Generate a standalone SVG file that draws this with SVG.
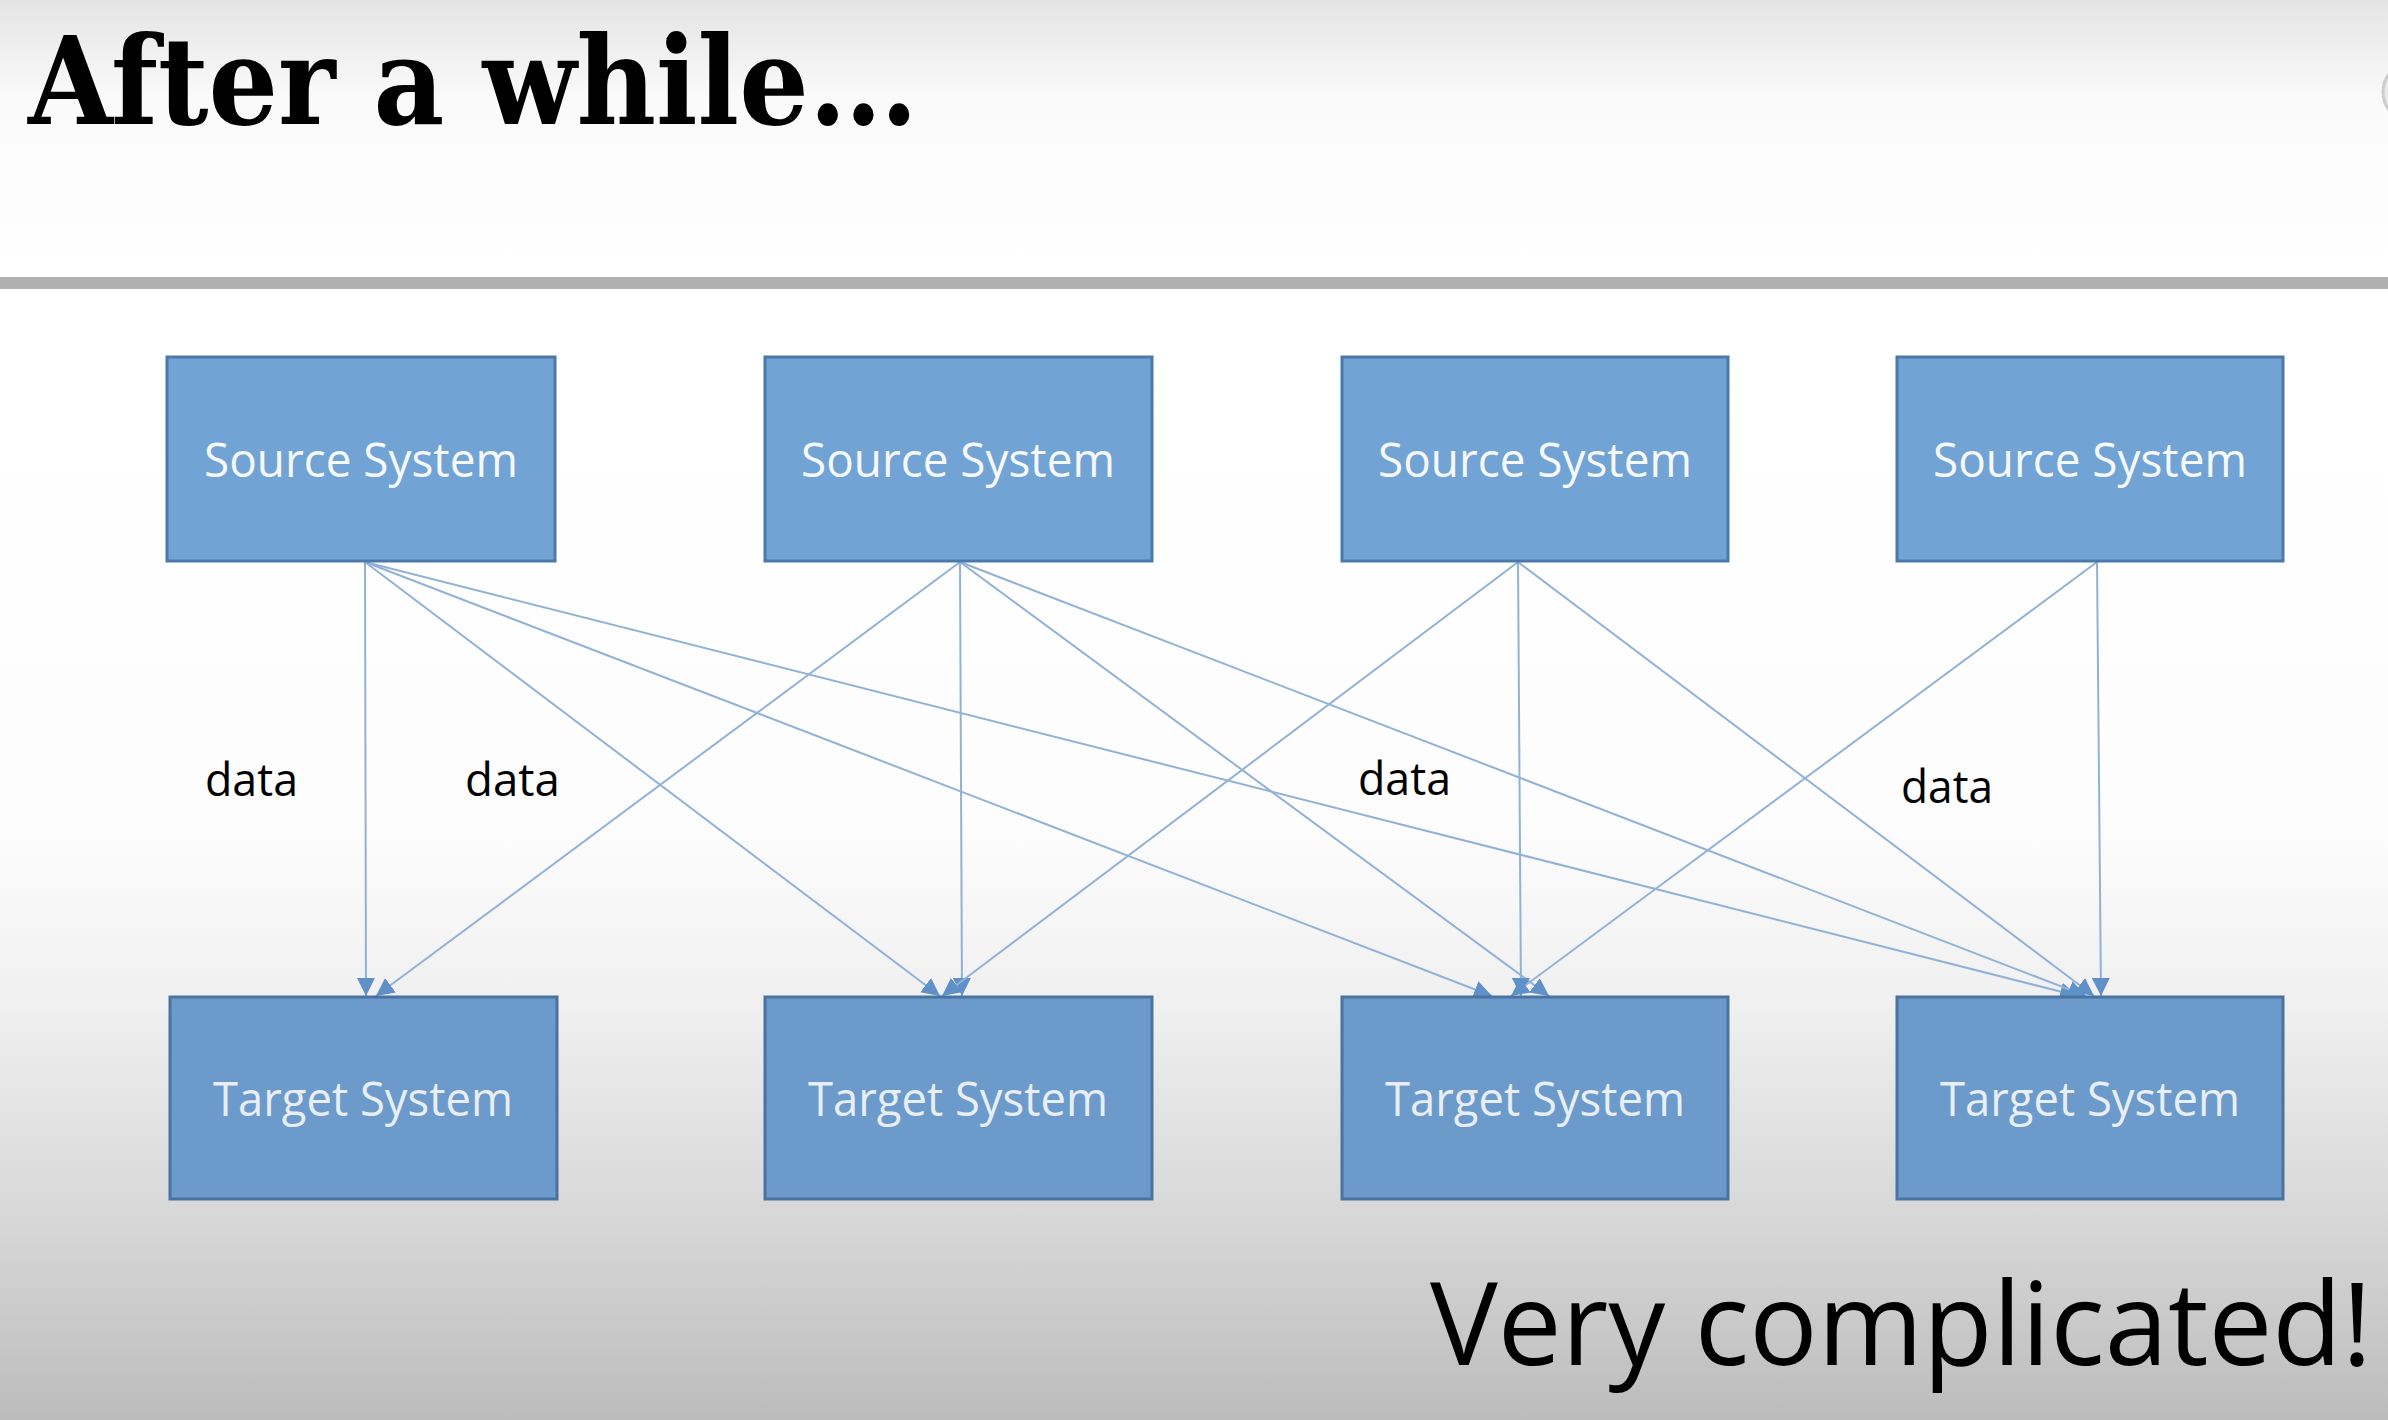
<svg xmlns="http://www.w3.org/2000/svg" width="2388" height="1420" viewBox="0 0 2388 1420">
  <defs>
    <linearGradient id="bgTop" x1="0" y1="0" x2="0" y2="1">
      <stop offset="0" stop-color="#e4e4e4"/>
      <stop offset="0.35" stop-color="#fafafa"/>
      <stop offset="1" stop-color="#ffffff"/>
    </linearGradient>
    <linearGradient id="bgBottom" x1="0" y1="289" x2="0" y2="1420" gradientUnits="userSpaceOnUse">
      <stop offset="0" stop-color="#ffffff"/>
      <stop offset="0.47" stop-color="#fdfdfd"/>
      <stop offset="0.63" stop-color="#f0f0f0"/>
      <stop offset="0.83" stop-color="#d6d6d6"/>
      <stop offset="1" stop-color="#bcbcbc"/>
    </linearGradient>
    <marker id="arrow" markerUnits="userSpaceOnUse" markerWidth="19" markerHeight="18" refX="18" refY="9" orient="auto">
      <path d="M0,0 L18,9 L0,18 z" fill="#5f91c8"/>
    </marker>
    <style>
      .src rect { fill: #72a3d5; stroke: #4d79aa; stroke-width: 3; }
      .tgt rect { fill: #6b9acb; stroke: #4a73a2; stroke-width: 3; }
      .src text, .tgt text { font-family: "Open Sans", "Noto Sans", sans-serif; font-size: 47px; text-anchor: middle; }
      .src text { fill: #f5f8fc; }
      .tgt text { fill: #e8eef5; }
      .conn line { stroke: #91b2d6; stroke-width: 2; fill: none; marker-end: url(#arrow); }
      .lbl { font-family: "Open Sans", "Noto Sans", sans-serif; font-size: 45px; fill: #000000; }
    </style>
  </defs>

  <!-- background -->
  <rect x="0" y="0" width="2388" height="277" fill="url(#bgTop)"/>
  <rect x="0" y="289" width="2388" height="1131" fill="url(#bgBottom)"/>
  <rect x="0" y="277" width="2388" height="12" fill="#b0b0b0"/>
  <circle cx="2413" cy="92" r="30" fill="#eaeaea" stroke="#cdcdcd" stroke-width="3"/>

  <!-- title -->
  <text x="28" y="124" font-family="'DejaVu Serif', 'Liberation Serif', serif" font-weight="bold" font-size="122" textLength="890" lengthAdjust="spacingAndGlyphs" fill="#000000">After a while…</text>

  <!-- connectors -->
  <g id="connectors" class="conn">
    <line x1="365" y1="562" x2="366" y2="996"/>
    <line x1="365" y1="562" x2="940" y2="996"/>
    <line x1="365" y1="562" x2="1492" y2="996"/>
    <line x1="365" y1="562" x2="2078" y2="996"/>
    <line x1="960" y1="562" x2="376" y2="996"/>
    <line x1="960" y1="562" x2="962" y2="996"/>
    <line x1="960" y1="562" x2="1549" y2="996"/>
    <line x1="960" y1="562" x2="2086" y2="996"/>
    <line x1="1518" y1="562" x2="942" y2="996"/>
    <line x1="1518" y1="562" x2="1521" y2="996"/>
    <line x1="1518" y1="562" x2="2094" y2="996"/>
    <line x1="2097" y1="562" x2="1511" y2="996"/>
    <line x1="2097" y1="562" x2="2101" y2="996"/>
  </g>

  <!-- source systems -->
  <g id="source1" class="src">
    <rect x="167" y="357" width="388" height="204"/>
    <text x="361" y="477" textLength="314" lengthAdjust="spacingAndGlyphs">Source System</text>
  </g>
  <g id="source2" class="src">
    <rect x="765" y="357" width="387" height="204"/>
    <text x="958" y="477" textLength="314" lengthAdjust="spacingAndGlyphs">Source System</text>
  </g>
  <g id="source3" class="src">
    <rect x="1342" y="357" width="386" height="204"/>
    <text x="1535" y="477" textLength="314" lengthAdjust="spacingAndGlyphs">Source System</text>
  </g>
  <g id="source4" class="src">
    <rect x="1897" y="357" width="386" height="204"/>
    <text x="2090" y="477" textLength="314" lengthAdjust="spacingAndGlyphs">Source System</text>
  </g>

  <!-- target systems -->
  <g id="target1" class="tgt">
    <rect x="170" y="997" width="387" height="202"/>
    <text x="363" y="1116" textLength="300" lengthAdjust="spacingAndGlyphs">Target System</text>
  </g>
  <g id="target2" class="tgt">
    <rect x="765" y="997" width="387" height="202"/>
    <text x="958" y="1116" textLength="300" lengthAdjust="spacingAndGlyphs">Target System</text>
  </g>
  <g id="target3" class="tgt">
    <rect x="1342" y="997" width="386" height="202"/>
    <text x="1535" y="1116" textLength="300" lengthAdjust="spacingAndGlyphs">Target System</text>
  </g>
  <g id="target4" class="tgt">
    <rect x="1897" y="997" width="386" height="202"/>
    <text x="2090" y="1116" textLength="300" lengthAdjust="spacingAndGlyphs">Target System</text>
  </g>

  <!-- labels -->
  <text class="lbl" x="205" y="796" textLength="93" lengthAdjust="spacingAndGlyphs">data</text>
  <text class="lbl" x="465" y="796" textLength="95" lengthAdjust="spacingAndGlyphs">data</text>
  <text class="lbl" x="1358" y="795" textLength="93" lengthAdjust="spacingAndGlyphs">data</text>
  <text class="lbl" x="1901" y="803" textLength="92" lengthAdjust="spacingAndGlyphs">data</text>

  <text x="1430" y="1365" font-family="'Open Sans', 'Noto Sans', sans-serif" font-size="116" textLength="942" lengthAdjust="spacingAndGlyphs" fill="#000000">Very complicated!</text>
</svg>
